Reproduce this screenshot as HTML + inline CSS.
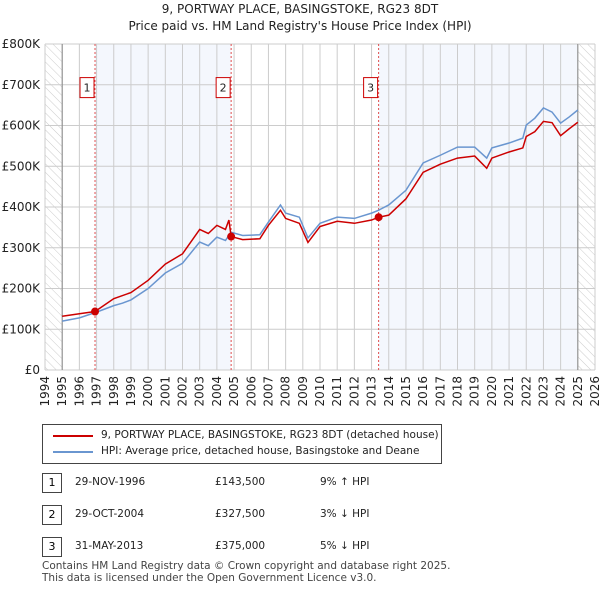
<!DOCTYPE html>
<html><head><meta charset="utf-8"><style>
body{margin:0;background:#fff;font-family:"DejaVu Sans","Liberation Sans",sans-serif;}
#c{position:absolute;left:0;top:0}
.t{position:absolute;font-size:12px;color:#222;white-space:nowrap}
</style></head><body>
<svg id="c" width="600" height="590" font-family="DejaVu Sans, Liberation Sans, sans-serif">
<defs><pattern id="h" width="6" height="6" patternUnits="userSpaceOnUse" patternTransform="rotate(-45)"><line x1="0" y1="0" x2="0" y2="6" stroke="#ccc" stroke-width="1"/></pattern></defs>
<text x="300" y="13" text-anchor="middle" font-size="12" fill="#222">9, PORTWAY PLACE, BASINGSTOKE, RG23 8DT</text>
<text x="300" y="30" text-anchor="middle" font-size="12" fill="#222">Price paid vs. HM Land Registry's House Price Index (HPI)</text>
<g id="g"></g>
</svg>
<div style="position:absolute;left:42px;top:424px;width:398px;height:38px;border:1px solid #444">
<div style="position:absolute;left:10px;top:10px;width:40px;border-top:2px solid #cc0000"></div>
<div class="t" style="left:58px;top:3px;font-size:10.5px;line-height:15px">9, PORTWAY PLACE, BASINGSTOKE, RG23 8DT (detached house)</div>
<div style="position:absolute;left:10px;top:26px;width:40px;border-top:2px solid #6a96d0"></div>
<div class="t" style="left:58px;top:19px;font-size:10.5px;line-height:15px">HPI: Average price, detached house, Basingstoke and Deane</div>
</div>
<div id="tbl"></div>
<div class="t" style="left:42px;top:560px;font-size:10.5px;color:#444;line-height:12px">Contains HM Land Registry data © Crown copyright and database right 2025.<br>This data is licensed under the Open Government Licence v3.0.</div>
<script>
const hpiX=[1995,1996,1997,1998,1998.5,1999,2000,2001,2002,2003,2003.5,2004,2004.5,2004.83,2005.5,2006.5,2007,2007.7,2008,2008.8,2009.3,2010,2011,2012,2013,2013.4,2014,2015,2016,2017,2018,2019,2019.7,2020,2021,2021.8,2022,2022.5,2023,2023.5,2024,2024.5,2025];
const hpiV=[120,128,142,158,164,172,200,238,262,314,305,326,318,338,330,332,363,405,385,375,324,360,375,372,385,392,405,441,508,527,547,547,520,545,557,569,601,618,643,633,606,621,638];
const redX=[1995,1996,1996.91,1998,1999,2000,2001,2002,2003,2003.5,2004,2004.5,2004.7,2004.83,2005.5,2006.5,2007,2007.7,2008,2008.8,2009.3,2010,2011,2012,2013,2013.41,2014,2015,2016,2017,2018,2019,2019.7,2020,2021,2021.8,2022,2022.5,2023,2023.5,2024,2024.5,2025];
const redV=[132,138,143.5,175,190,220,260,285,345,335,355,345,368,327.5,320,322,355,392,372,360,313,352,365,360,368,375,380,420,485,505,520,525,495,520,535,545,573,585,610,607,575,592,608];
const sales=[{n:"1",x:1996.91,v:143.5,d:"29-NOV-1996",p:"£143,500",h:"9% ↑ HPI"},{n:"2",x:2004.83,v:327.5,d:"29-OCT-2004",p:"£327,500",h:"3% ↓ HPI"},{n:"3",x:2013.41,v:375,d:"31-MAY-2013",p:"£375,000",h:"5% ↓ HPI"}];
const yTicks=[0,100,200,300,400,500,600,700,800];
const yLabels=["£0","£100K","£200K","£300K","£400K","£500K","£600K","£700K","£800K"];
const L=45,R=595,T=44,B=370;
const X=y=>L+(y-1994)*(R-L)/32, Y=v=>B-v*(B-T)/800;
const g=document.getElementById('g'),ns="http://www.w3.org/2000/svg";
function el(t,a,p){const e=document.createElementNS(ns,t);for(const k in a)e.setAttribute(k,a[k]);(p||g).appendChild(e);return e;}
let e;
e=el('rect',{x:X(1994),y:T,width:X(1995)-X(1994),height:B-T,fill:"url(#h)"});


e=el('rect',{x:X(2025),y:T,width:X(2026)-X(2025),height:B-T,fill:"url(#h)"});


e=el('rect',{x:X(sales[0].x),y:T,width:X(sales[1].x)-X(sales[0].x),height:B-T,fill:"#f4f7fd"});


e=el('rect',{x:X(sales[2].x),y:T,width:X(2025)-X(sales[2].x),height:B-T,fill:"#f4f7fd"});


for(let yr=1994;yr<=2026;yr++){
 e=el('line',{x1:X(yr),x2:X(yr),y1:T,y2:B,stroke:"#ccc","stroke-width":1});
 
 
 e=el('text',{x:0,y:0,"font-size":12,fill:"#222","text-anchor":"end",transform:`translate(${X(yr)+4},${B+6}) rotate(-90)`});
 e.textContent=yr;
 
 
}
yTicks.forEach((v,i)=>{
 e=el('line',{x1:L,x2:R,y1:Y(v),y2:Y(v),stroke:"#ccc","stroke-width":1});
 
 
 e=el('text',{x:L-5,y:Y(v)+4,"font-size":12,fill:"#222","text-anchor":"end"});
 e.textContent=yLabels[i];
 
 
});
e=el('line',{x1:X(1995),x2:X(1995),y1:T,y2:B,stroke:"#888"});


e=el('line',{x1:X(2025),x2:X(2025),y1:T,y2:B,stroke:"#888"});


sales.forEach(s=>{
 e=el('line',{x1:X(s.x),x2:X(s.x),y1:T,y2:B,stroke:"#e05050","stroke-dasharray":"2,2"});
 
 
 e=el('rect',{x:X(s.x)-15,y:Y(693)-10,width:14,height:20,fill:"#fff",stroke:"#cc0000"});
 
 
 e=el('text',{x:X(s.x)-8,y:Y(693)+4,"font-size":11,"text-anchor":"middle",fill:"#222"});
 e.textContent=s.n;
 
 
});
e=el('polyline',{points:hpiX.map((x,i)=>X(x)+","+Y(hpiV[i])).join(" "),fill:"none",stroke:"#6a96d0","stroke-width":1.5});


e=el('polyline',{points:redX.map((x,i)=>X(x)+","+Y(redV[i])).join(" "),fill:"none",stroke:"#cc0000","stroke-width":1.5});


sales.forEach(s=>{
 e=el('circle',{cx:X(s.x),cy:Y(s.v),r:4,fill:"#cc0000"});
 
 
});
const tbl=document.getElementById('tbl');
sales.forEach((s,i)=>{
 const top=473+i*32;
 const r=document.createElement('div');
 
 
 r.innerHTML=`<div style="position:absolute;left:42px;top:${top}px;width:18px;height:18px;border:1px solid #444;font-size:11px;text-align:center;line-height:18px">${s.n}</div>
<div class="t" style="left:75px;top:${top+3}px;font-size:10.5px">${s.d}</div>
<div class="t" style="left:215px;top:${top+3}px;font-size:10.5px">${s.p}</div>
<div class="t" style="left:320px;top:${top+3}px;font-size:10.5px">${s.h}</div>`;
 tbl.appendChild(r);
});
</script>
</body></html>
